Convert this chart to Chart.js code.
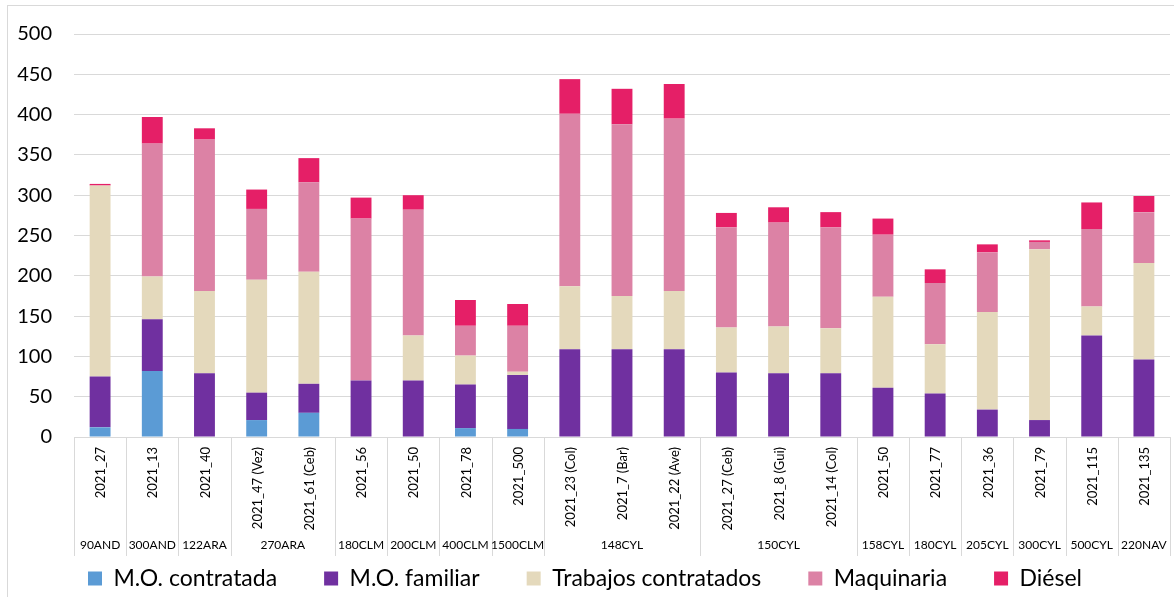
<!DOCTYPE html>
<html>
<head>
<meta charset="utf-8">
<script src="https://cdn.jsdelivr.net/npm/chart.js@4/dist/chart.umd.min.js"></script>
<style>
  html, body { margin: 0; padding: 0; background: #fff; }
  #wrap { width: 1174px; height: 597px; position: relative; }
</style>
</head>
<body>
<div id="wrap"><canvas id="c" width="1174" height="597"></canvas></div>
<script>
const categories = ['2021_27','2021_13','2021_40','2021_47 (Vez)','2021_61 (Ceb)','2021_56','2021_50','2021_78','2021_500','2021_23 (Col)','2021_7 (Bar)','2021_22 (Ave)','2021_27 (Ceb)','2021_8 (Gui)','2021_14 (Col)','2021_50','2021_77','2021_36','2021_79','2021_115','2021_135'];
const groups = ['90AND','300AND','122ARA','270ARA','180CLM','200CLM','400CLM','1500CLM','148CYL','150CYL','158CYL','180CYL','205CYL','300CYL','500CYL','220NAV'];
const groupSizes = [1,1,1,2,1,1,1,1,3,3,1,1,1,1,1,1];

const moContratada = [12,82,0,21,30,0,0,11,10,0,0,0,0,0,0,0,0,0,0,0,0];
const moFamiliar   = [63,64,79,34,36,70,70,54,67,109,109,109,80,79,79,61,54,34,21,126,96];
const trabajos     = [237,53,102,140,139,0,56,36,4,78,66,72,56,58,56,113,61,121,212,36,120];
const maquinaria   = [0,165,188,88,111,201,156,37,57,214,213,214,124,129,125,77,76,74,9,96,63];
const diesel       = [2,33,14,24,30,26,18,32,27,43,44,43,18,19,19,20,17,10,2,33,20];

const yTicks = [0,50,100,150,200,250,300,350,400,450,500];

const FONT = 'Lato';
const GRID = '#d9d9d9';

const multiLevel = {
  id: 'multiLevel',
  beforeDraw(chart) {
    const ctx = chart.ctx;
    ctx.save();
    ctx.fillStyle = '#fff';
    ctx.fillRect(0, 0, chart.width, chart.height);
    ctx.strokeStyle = GRID;
    ctx.lineWidth = 1;
    ctx.strokeRect(7.5, 5.5, 1180, 600);
    ctx.restore();
  },
  afterDraw(chart) {
    const ctx = chart.ctx;
    const xs = chart.scales.x;
    const area = chart.chartArea;
    const half = (xs.getPixelForValue(1) - xs.getPixelForValue(0)) / 2;
    ctx.save();
    ctx.fillStyle = '#000';
    ctx.font = '13px ' + FONT;
    ctx.textAlign = 'right';
    ctx.textBaseline = 'middle';
    categories.forEach((c, i) => {
      const px = xs.getPixelForValue(i);
      ctx.save();
      ctx.translate(px + 1, area.bottom + 10);
      ctx.rotate(-Math.PI / 2);
      ctx.fillText(c, 0, 0);
      ctx.restore();
    });
    ctx.strokeStyle = GRID;
    ctx.lineWidth = 1;
    let idx = 0;
    const sepBottom = 556;
    const drawSep = (px) => {
      const x = Math.round(px) + 0.5;
      ctx.beginPath();
      ctx.moveTo(x, area.bottom);
      ctx.lineTo(x, sepBottom);
      ctx.stroke();
    };
    drawSep(xs.getPixelForValue(0) - half);
    ctx.textAlign = 'center';
    ctx.font = '12px ' + FONT;
    groups.forEach((g, gi) => {
      const start = idx;
      const end = idx + groupSizes[gi] - 1;
      const left = xs.getPixelForValue(start) - half;
      const right = xs.getPixelForValue(end) + half;
      ctx.fillText(g, (left + right) / 2, 545);
      drawSep(right);
      idx = end + 1;
    });
    ctx.restore();
  }
};

const ds = (label, data, color) => ({
  label, data, backgroundColor: color, borderWidth: 0,
  categoryPercentage: 1.0, barPercentage: 0.4
});

new Chart(document.getElementById('c'), {
  type: 'bar',
  data: {
    labels: categories,
    datasets: [
      ds('M.O. contratada', moContratada, '#5B9BD5'),
      ds('M.O. familiar', moFamiliar, '#7030A0'),
      ds('Trabajos contratados', trabajos, '#E4D9BC'),
      ds('Maquinaria', maquinaria, '#DC82A5'),
      ds('Diésel', diesel, '#E51F67')
    ]
  },
  options: {
    responsive: false,
    animation: false,
    layout: { padding: { left: 0, right: 4, top: 30, bottom: -3 } },
    plugins: {
      tooltip: { enabled: false },
      legend: {
        position: 'bottom',
        labels: {
          font: { family: FONT, size: 23 },
          color: '#000',
          boxWidth: 14,
          boxHeight: 14,
          padding: 47
        }
      }
    },
    scales: {
      x: {
        stacked: true,
        grid: { display: false },
        border: { display: true, color: GRID },
        ticks: { display: false },
        afterFit(scale) { scale.height = 83; }
      },
      y: {
        stacked: true,
        min: 0,
        max: 500,
        afterBuildTicks(scale) { scale.ticks = yTicks.map(v => ({ value: v })); },
        grid: { color: GRID, drawTicks: false },
        border: { display: false },
        ticks: { font: { family: FONT, size: 20 }, color: '#000', padding: 22 },
        afterFit(scale) { scale.width = 74; }
      }
    }
  },
  plugins: [multiLevel]
});
</script>
</body>
</html>
